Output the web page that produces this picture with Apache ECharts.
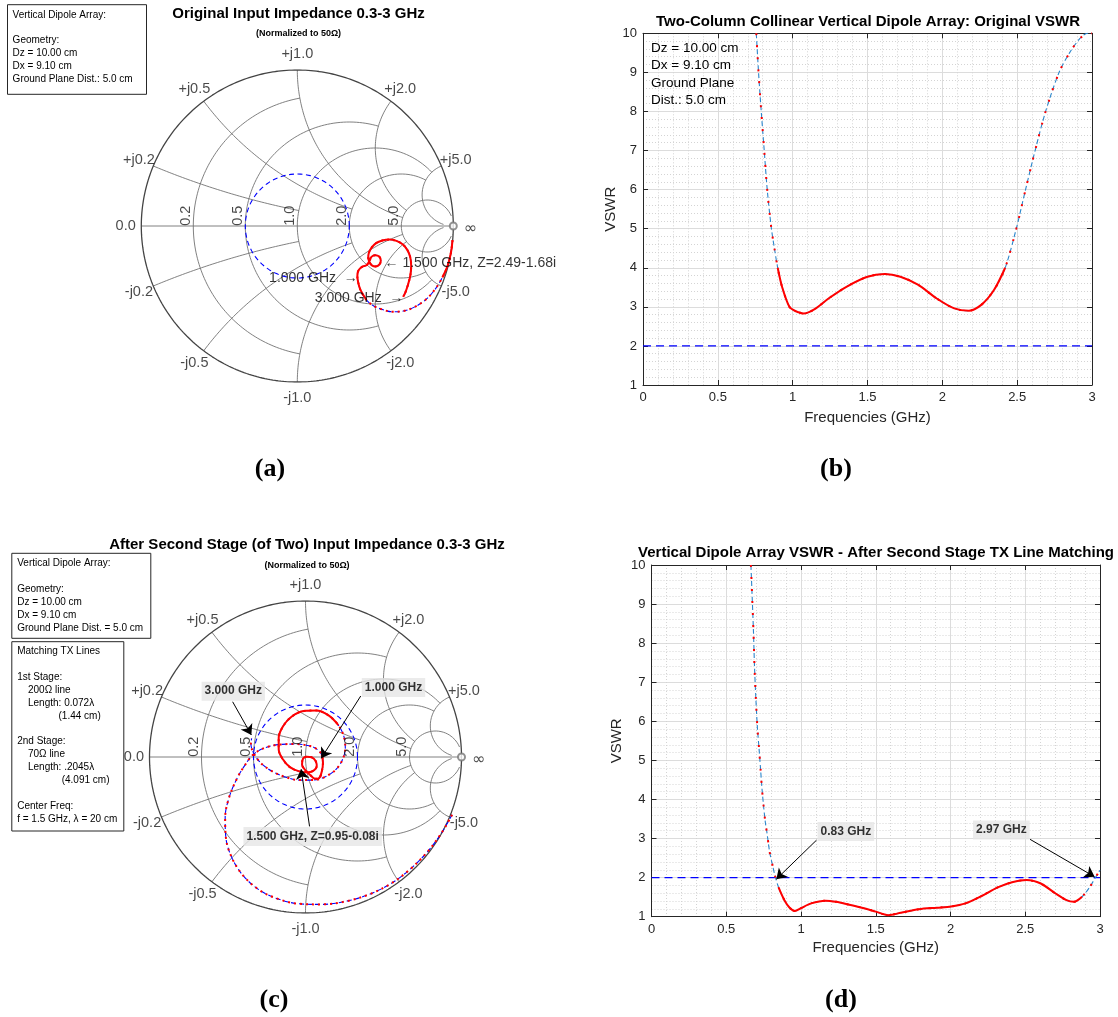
<!DOCTYPE html>
<html>
<head>
<meta charset="utf-8">
<title>Vertical dipole array: input impedance and VSWR</title>
<script src="https://cdn.jsdelivr.net/npm/echarts@6/dist/echarts.min.js"></script>
<style>
  html, body { margin: 0; padding: 0; background: #fff; }
  #chart { width: 1118px; height: 1017px; }
</style>
</head>
<body>
<div id="chart"></div>
<script>
// ---- VSWR, original array (panel b)
const freqOrig = [0.757, 0.772, 0.79, 0.81, 0.83, 0.858, 0.88, 0.90, 0.93, 0.978, 1.014, 1.074, 1.15, 1.242, 1.362, 1.5, 1.614, 1.72, 1.84, 1.96, 2.08, 2.177, 2.26, 2.345, 2.42, 2.494, 2.556, 2.62, 2.69, 2.78, 2.85, 2.92, 2.97, 3.0];
const vswrOrig = [10, 9, 8, 7, 6, 5, 4.45, 4.0, 3.5, 3.0, 2.9, 2.83, 2.95, 3.22, 3.52, 3.77, 3.84, 3.77, 3.56, 3.22, 2.96, 2.90, 3.05, 3.43, 4.0, 5.0, 6.0, 7.0, 8.0, 9.0, 9.5, 9.87, 10.0, 10.0];

// ---- VSWR after second matching stage (panel d)
const freqMatched = [0.665, 0.672, 0.682, 0.689, 0.698, 0.708, 0.72, 0.73, 0.739, 0.749, 0.761, 0.773, 0.79, 0.804, 0.828, 0.852, 0.888, 0.924, 0.96, 0.996, 1.068, 1.164, 1.236, 1.308, 1.428, 1.5, 1.584, 1.668, 1.788, 1.908, 2.004, 2.10, 2.208, 2.316, 2.412, 2.508, 2.604, 2.70, 2.772, 2.825, 2.88, 2.935, 2.969, 3.0];
const vswrMatched = [10, 9.32, 8.30, 7.40, 6.59, 5.86, 5.27, 4.75, 4.28, 3.86, 3.43, 3.13, 2.66, 2.41, 2.02, 1.73, 1.43, 1.23, 1.145, 1.21, 1.34, 1.41, 1.38, 1.32, 1.21, 1.13, 1.04, 1.10, 1.19, 1.23, 1.26, 1.34, 1.53, 1.75, 1.88, 1.94, 1.85, 1.60, 1.43, 1.38, 1.51, 1.78, 2.0, 2.19];

const VSWR_LIMIT = 2;
const freqRange = [0, 3];
const vswrRange = [1, 10];

// ---- Smith chart traces, reflection coefficient [Re, Im], 0.3 GHz -> 3 GHz
const gammaOrig = [
  [0.995, -0.09], [0.985, -0.17], [0.965, -0.25], [0.93, -0.33], [0.88, -0.41], [0.82, -0.475], [0.75, -0.52],
  [0.68, -0.545], [0.61, -0.55], [0.545, -0.535], [0.485, -0.51], [0.44, -0.47], [0.405, -0.41], [0.39, -0.36],
  [0.385, -0.32], [0.392, -0.285], [0.415, -0.262], [0.445, -0.25], [0.462, -0.225], [0.475, -0.198], [0.50, -0.187],
  [0.525, -0.196], [0.535, -0.222], [0.526, -0.247], [0.502, -0.259], [0.478, -0.252], [0.463, -0.232], [0.455, -0.205],
  [0.458, -0.175], [0.475, -0.14], [0.505, -0.11], [0.545, -0.093], [0.59, -0.087], [0.635, -0.095], [0.675, -0.117],
  [0.705, -0.153], [0.724, -0.2], [0.73, -0.255], [0.725, -0.315], [0.71, -0.375], [0.693, -0.425], [0.679, -0.453]
];
const gammaMatched = [
  [0.94, -0.37], [0.87, -0.49], [0.78, -0.61], [0.67, -0.72], [0.55, -0.81], [0.41, -0.88], [0.26, -0.925],
  [0.1, -0.945], [-0.05, -0.94], [-0.19, -0.905], [-0.3, -0.85], [-0.4, -0.76], [-0.47, -0.65], [-0.51, -0.52],
  [-0.515, -0.39], [-0.49, -0.26], [-0.44, -0.14], [-0.39, -0.055], [-0.338, 0.013],
  [-0.27, 0.055], [-0.165, 0.08], [-0.06, 0.083], [0.03, 0.07], [0.08, 0.045], [0.104, 0.013],
  [0.112, -0.035], [0.105, -0.09], [0.088, -0.135], [0.062, -0.14], [0.03, -0.115], [0.0, -0.085], [-0.022, -0.05],
  [-0.018, -0.015], [0.008, 0.002], [0.04, -0.002], [0.065, -0.025], [0.072, -0.058], [0.055, -0.085], [0.02, -0.098],
  [-0.04, -0.092], [-0.1, -0.065], [-0.145, -0.015], [-0.172, 0.05], [-0.172, 0.12], [-0.145, 0.195], [-0.09, 0.258],
  [-0.01, 0.295], [0.07, 0.298], [0.15, 0.265], [0.21, 0.205], [0.245, 0.135], [0.255, 0.06],
  [0.24, -0.01], [0.2, -0.075], [0.13, -0.125], [0.05, -0.148], [-0.04, -0.148], [-0.13, -0.128], [-0.22, -0.088],
  [-0.29, -0.035], [-0.335, 0.03], [-0.35, 0.085], [-0.345, 0.12]
];

// Smith grid: circle values and where each circle/arc stops
const smithGridValues = [0.2, 0.5, 1.0, 2.0, 5.0];
const smithGridLimits = [1.0, 2.0, 5.0, 5.0, 30];
const reactanceLabels = ['+j0.2', '+j0.5', '+j1.0', '+j2.0', '+j5.0'];
const resistanceLabels = ['0.2', '0.5', '1.0', '2.0', '5.0'];

// parts of each sweep where the samples are close enough to look solid
const denseOrig = [[0, 3], [11, 41]];
const denseMatched = [[24, 49]];
const denseVswrOrig = [[7, 24]];
const denseVswrMatched = [[15, 40]];

const FONT = 'Liberation Sans';
const AX = '#262626';

// z -> reflection coefficient
function gammaOf(r, x) {
  const den = (r + 1) * (r + 1) + x * x;
  return [(r * r - 1 + x * x) / den, (2 * x) / den];
}
function arc(cx, cy, rad, a0, a1, n) {
  const pts = [];
  for (let i = 0; i <= n; i++) {
    const a = a0 + (a1 - a0) * i / n;
    pts.push([cx + rad * Math.cos(a), cy + rad * Math.sin(a)]);
  }
  return pts;
}
function rCircle(r, lim) {
  const cx = r / (1 + r), rad = 1 / (1 + r);
  const g = gammaOf(r, lim);
  const a = Math.atan2(g[1], g[0] - cx);
  return arc(cx, 0, rad, a, 2 * Math.PI - a, 240);
}
function xArc(x, lim) {
  const ax = Math.abs(x), c = 1 / ax;
  const g0 = gammaOf(0, ax), g1 = gammaOf(lim, ax);
  const a0 = Math.atan2(g0[1] - c, g0[0] - 1);
  let a1 = Math.atan2(g1[1] - c, g1[0] - 1);
  while (a1 < a0) a1 += 2 * Math.PI;
  const pts = arc(1, c, c, a0, a1, 160);
  return x < 0 ? pts.map(p => [p[0], -p[1]]) : pts;
}

function lineSeries(xi, yi, data, style, smooth, z) {
  return {
    type: 'line', xAxisIndex: xi, yAxisIndex: yi, data: data, symbol: 'none', silent: true,
    smooth: smooth || false, lineStyle: style, z: z || 2, emphasis: { disabled: true }
  };
}
function labelSeries(xi, yi, items, base) {
  return {
    type: 'scatter', xAxisIndex: xi, yAxisIndex: yi, silent: true, z: 20, clip: false,
    symbol: 'circle', symbolSize: 1, itemStyle: { color: 'transparent' },
    data: items.map(it => ({
      value: it.at,
      label: Object.assign({ show: true, formatter: it.text }, base, it.label || {})
    }))
  };
}
function arrowSeries(xi, yi, arrows) {
  return {
    type: 'lines', coordinateSystem: 'cartesian2d', xAxisIndex: xi, yAxisIndex: yi, silent: true, z: 15,
    symbol: ['none', 'arrow'], symbolSize: 10,
    lineStyle: { color: '#000', width: 1, opacity: 1, curveness: 0 },
    data: arrows.map(a => ({ coords: [a.from, a.to] }))
  };
}
function traceSeries(xi, yi, pts, dense, blue, smooth, dots) {
  const out = [
    lineSeries(xi, yi, pts, { color: blue, width: 1.1, type: [5, 3] }, smooth, 3),
    lineSeries(xi, yi, pts, { color: '#ff0000', width: 2, type: dots }, smooth, 4)
  ];
  dense.forEach(([a, b]) => out.push(lineSeries(xi, yi, pts.slice(a, b + 1), { color: '#ff0000', width: 2 }, smooth, 5)));
  return out;
}

function smithSeries(xi, yi) {
  const g = { color: '#737373', width: 0.9 };
  const out = [];
  smithGridValues.forEach((v, k) => {
    const lim = smithGridLimits[k];
    out.push(lineSeries(xi, yi, rCircle(v, lim), g, false, 1));
    out.push(lineSeries(xi, yi, xArc(v, lim), g, false, 1));
    out.push(lineSeries(xi, yi, xArc(-v, lim), g, false, 1));
  });
  out.push(lineSeries(xi, yi, [[-1, 0], [1, 0]], g, false, 1));
  out.push(lineSeries(xi, yi, arc(0, 0, 1, 0, 2 * Math.PI, 360), { color: '#444', width: 1.3 }, false, 1));
  // constant VSWR circle
  const rho = (VSWR_LIMIT - 1) / (VSWR_LIMIT + 1);
  out.push(lineSeries(xi, yi, arc(0, 0, rho, 0, 2 * Math.PI, 200), { color: '#0000ff', width: 1.1, type: [5, 3.5] }, false, 2));
  // infinity marker
  out.push({
    type: 'scatter', xAxisIndex: xi, yAxisIndex: yi, silent: true, z: 6, clip: false, data: [[1, 0]],
    symbol: 'emptyCircle', symbolSize: 7, itemStyle: { color: '#777', borderWidth: 0.8 }
  });
  const items = [];
  smithGridValues.forEach((v, k) => {
    const p = gammaOf(0, v), a = Math.atan2(p[1], p[0]);
    items.push({ at: [1.1 * Math.cos(a), 1.1 * Math.sin(a)], text: reactanceLabels[k] });
    items.push({ at: [1.1 * Math.cos(a), -1.1 * Math.sin(a)], text: reactanceLabels[k].replace('+', '-') });
  });
  items.push({ at: [-1.1, 0], text: '0.0' });
  items.push({ at: [1.11, -0.02], text: '\u221e', label: { fontFamily: 'DejaVu Sans', fontSize: 16 } });
  out.push(labelSeries(xi, yi, items, { position: 'inside', color: '#1a1a1a', fontSize: 14.5, fontFamily: FONT }));
  const rItems = smithGridValues.map((v, k) => ({ at: [gammaOf(v, 0)[0] - 0.045, 0.066], text: resistanceLabels[k] }));
  out.push(labelSeries(xi, yi, rItems, { position: 'inside', color: '#1a1a1a', fontSize: 14.5, fontFamily: FONT, rotate: 90 }));
  return out;
}

function vswrSeries(xi, yi, freq, vswr, dense) {
  const pts = freq.map((f, i) => [f, vswr[i]]);
  return [
    lineSeries(xi, yi, [[freqRange[0], VSWR_LIMIT], [freqRange[1], VSWR_LIMIT]], { color: '#0000ff', width: 1.2, type: [8, 5] }, false, 2),
    ...traceSeries(xi, yi, pts, dense, '#2a86cc', 0.3, [2, 10])
  ];
}

function smithAxes(gi) {
  return {
    x: { gridIndex: gi, type: 'value', min: -1, max: 1, show: false },
    y: { gridIndex: gi, type: 'value', min: -1, max: 1, show: false }
  };
}
function vswrAxes(gi, xGap, yGap) {
  const line = { show: true, onZero: false, lineStyle: { color: AX, width: 1 } };
  const tick = { show: true, inside: true, length: 5, lineStyle: { color: AX } };
  const lab = { color: AX, fontSize: 13, fontFamily: FONT, margin: 6, showMinLabel: true, showMaxLabel: true };
  const major = { show: true, lineStyle: { color: '#dcdcdc', width: 1 } };
  const minor = { show: true, lineStyle: { color: '#d4d4d4', width: 1, type: [1, 2] } };
  const xb = {
    gridIndex: gi, type: 'value', position: 'bottom', min: freqRange[0], max: freqRange[1], interval: 0.5,
    axisLine: line, axisTick: tick, axisLabel: lab, splitLine: major,
    minorTick: { show: false, splitNumber: 5 }, minorSplitLine: minor,
    name: 'Frequencies (GHz)', nameLocation: 'middle', nameGap: xGap,
    nameTextStyle: { color: AX, fontSize: 15, fontFamily: FONT }
  };
  const xt = {
    gridIndex: gi, type: 'value', position: 'top', min: freqRange[0], max: freqRange[1], interval: 0.5,
    axisLine: line, axisTick: tick, axisLabel: { show: false }, splitLine: { show: false }
  };
  const yl = {
    gridIndex: gi, type: 'value', position: 'left', min: vswrRange[0], max: vswrRange[1], interval: 1,
    axisLine: line, axisTick: tick, axisLabel: lab, splitLine: major,
    minorTick: { show: false, splitNumber: 5 }, minorSplitLine: minor,
    name: 'VSWR', nameLocation: 'middle', nameGap: yGap, nameRotate: 90,
    nameTextStyle: { color: AX, fontSize: 15, fontFamily: FONT }
  };
  const yr = {
    gridIndex: gi, type: 'value', position: 'right', min: vswrRange[0], max: vswrRange[1], interval: 1,
    axisLine: line, axisTick: tick, axisLabel: { show: false }, splitLine: { show: false }
  };
  return { x: [xb, xt], y: [yl, yr] };
}

// axes: 0 smith a | 1,2 vswr b | 3 smith c | 4,5 vswr d
const sa = smithAxes(0), vb = vswrAxes(1, 25, 25), sc = smithAxes(2), vd = vswrAxes(3, 24, 27);

const boxLabel = {
  position: 'inside', color: '#000', fontSize: 12, fontWeight: 'bold', fontFamily: FONT,
  backgroundColor: '#e6e6e6', padding: [4, 3, 3, 3]
};

const series = [
  ...smithSeries(0, 0),
  ...traceSeries(0, 0, gammaOrig, denseOrig, '#0000ff', 0.35, [2, 4]),
  labelSeries(0, 0, [
    { at: [0.391, -0.335], text: '1.000 GHz  \u2192', label: { position: 'left', distance: 0 } },
    { at: [0.684, -0.463], text: '3.000 GHz  \u2192', label: { position: 'left', distance: 0 } },
    { at: [0.556, -0.235], text: '\u2190 1.500 GHz, Z=2.49-1.68i', label: { position: 'right', distance: 0 } }
  ], { color: '#000', fontSize: 14, fontFamily: FONT }),

  ...vswrSeries(1, 1, freqOrig, vswrOrig, denseVswrOrig),

  ...smithSeries(3, 3),
  ...traceSeries(3, 3, gammaMatched, denseMatched, '#0000ff', 0.35, [2, 4]),
  arrowSeries(3, 3, [
    { from: [-0.467, 0.354], to: [-0.347, 0.141] },
    { from: [0.354, 0.391], to: [0.101, -0.008] },
    { from: [0.026, -0.445], to: [-0.028, -0.078] }
  ]),
  labelSeries(3, 3, [
    { at: [-0.463, 0.422], text: '3.000 GHz' },
    { at: [0.564, 0.446], text: '1.000 GHz' },
    { at: [0.046, -0.51], text: '1.500 GHz, Z=0.95-0.08i' }
  ], boxLabel),

  ...vswrSeries(4, 4, freqMatched, vswrMatched, denseVswrMatched),
  arrowSeries(4, 4, [
    { from: [1.104, 2.96], to: [0.835, 1.96] },
    { from: [2.532, 2.98], to: [2.964, 2.02] }
  ]),
  labelSeries(4, 4, [
    { at: [1.30, 3.18], text: '0.83 GHz' },
    { at: [2.34, 3.22], text: '2.97 GHz' }
  ], boxLabel)
];

// ---- page furniture: titles, info boxes, captions
const graphics = [];
function gText(text, x, y, font, align, vAlign, extra) {
  graphics.push({
    type: 'text', x: x, y: y, z: 101, silent: true,
    style: Object.assign({
      text: text, font: font, fill: '#000',
      align: align || 'center', verticalAlign: vAlign || 'middle',
      textAlign: align || 'center', textVerticalAlign: vAlign || 'middle'
    }, extra || {})
  });
}
function gBox(x, y, w, h) {
  graphics.push({
    type: 'rect', z: 100, silent: true, shape: { x: x, y: y, width: w, height: h },
    style: { fill: '#fff', stroke: AX, lineWidth: 1 }
  });
}
const f10 = '10px "Liberation Sans"';
const fTitle = 'bold 15px "Liberation Sans"';

gText('Original Input Impedance 0.3-3 GHz', 298.5, 13.5, fTitle);
gText('(Normalized to 50\u03a9)', 298.5, 33.7, 'bold 9px "Liberation Sans"');
gBox(7.5, 4.7, 139, 89.6);
gText('Vertical Dipole Array:\n\nGeometry:\nDz = 10.00 cm\nDx = 9.10 cm\nGround Plane Dist.: 5.0 cm',
  12.6, 8.3, f10, 'left', 'top', { lineHeight: 12.9 });

gText('Two-Column Collinear Vertical Dipole Array: Original VSWR', 868, 21.7, fTitle);
gText('Dz = 10.00 cm\nDx = 9.10 cm\nGround Plane\nDist.: 5.0 cm', 651, 39.7, '13.5px "Liberation Sans"', 'left', 'top', { lineHeight: 17.3 });

gText('After Second Stage (of Two) Input Impedance 0.3-3 GHz', 307, 545, fTitle);
gText('(Normalized to 50\u03a9)', 307, 566, 'bold 9px "Liberation Sans"');
gBox(11.8, 553.3, 139, 85);
gText('Vertical Dipole Array:\n\nGeometry:\nDz = 10.00 cm\nDx = 9.10 cm\nGround Plane Dist. = 5.0 cm',
  17.2, 557.2, f10, 'left', 'top', { lineHeight: 12.9 });
gBox(11.8, 641.7, 112, 189.3);
const txLines = [
  ['Matching TX Lines', 17.2], ['', 0], ['1st Stage:', 17.2], ['200\u03a9 line', 28], ['Length: 0.072\u03bb', 28],
  ['(1.44 cm)', 58.5], ['', 0], ['2nd Stage:', 17.2], ['70\u03a9 line', 28], ['Length: .2045\u03bb', 28],
  ['(4.091 cm)', 61.7], ['', 0], ['Center Freq:', 17.2], ['f = 1.5 GHz, \u03bb = 20 cm', 17.2]
];
txLines.forEach(([t, x], i) => { if (t) gText(t, x, 651.7 + i * 12.85, f10, 'left', 'middle'); });

gText('Vertical Dipole Array VSWR - After Second Stage TX Line Matching', 876, 552.7, fTitle);

const fCap = 'bold 26px "Liberation Serif"';
gText('(a)', 270, 469, fCap);
gText('(b)', 836, 469, fCap);
gText('(c)', 274, 1000, fCap);
gText('(d)', 841, 1000, fCap);

const chart = echarts.init(document.getElementById('chart'), null, { renderer: 'canvas' });
chart.setOption({
  animation: false,
  backgroundColor: '#fff',
  grid: [
    { left: 141.3, top: 70, width: 312, height: 312 },
    { left: 643, top: 33.3, width: 449, height: 351.7 },
    { left: 149.5, top: 601, width: 312, height: 312 },
    { left: 651.5, top: 565, width: 448.5, height: 351.7 }
  ],
  xAxis: [sa.x, ...vb.x, sc.x, ...vd.x],
  yAxis: [sa.y, ...vb.y, sc.y, ...vd.y],
  series: series,
  graphic: graphics
});
</script>
</body>
</html>
